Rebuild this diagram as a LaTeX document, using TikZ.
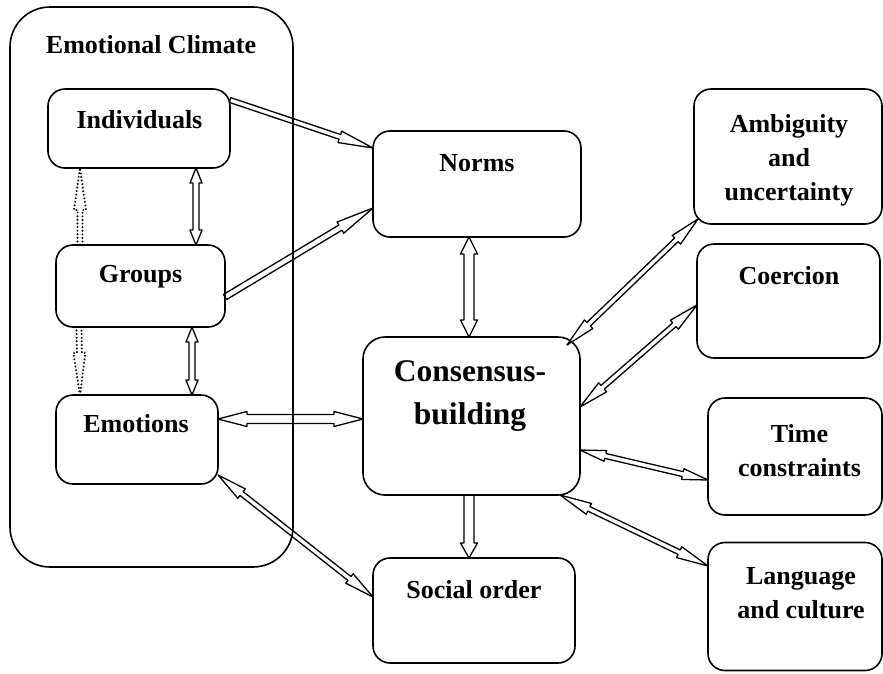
\documentclass[tikz,border=0pt]{standalone}
\usepackage{fontspec}
\setmainfont{Liberation Serif}
\usetikzlibrary{calc}

\tikzset{
  box/.style={draw, line width=1.6pt, rounded corners=17pt, inner sep=0pt, outer sep=0pt},
  frame/.style={draw, line width=1.6pt, rounded corners=40pt, inner sep=0pt, outer sep=0pt},
  lbl/.style={font=\bfseries\fontsize{26}{34}\selectfont, align=center, inner sep=0pt},
  biglbl/.style={font=\bfseries\fontsize{31.5}{43}\selectfont, align=center, inner sep=0pt},
  arrowline/.style={draw, line width=1.3pt, line join=round},
  dotline/.style={draw, line width=2.2pt, line cap=round, dash pattern=on 0pt off 3.6pt, line join=round},
}

% hollow arrow with heads at both ends: [style]{from}{to}{shaft half-width}{head half-width}{head length}
\newcommand{\dblarrow}[6][]{%
  \coordinate (hp) at ($(#2)!#6!(#3)$);
  \coordinate (hq) at ($(#3)!#6!(#2)$);
  \draw[arrowline,#1] (#2) -- ($(hp)!#5!90:(#3)$) -- ($(hp)!#4!90:(#3)$)
    -- ($(hq)!#4!-90:(#2)$) -- ($(hq)!#5!-90:(#2)$) -- (#3)
    -- ($(hq)!#5!90:(#2)$) -- ($(hq)!#4!90:(#2)$)
    -- ($(hp)!#4!-90:(#3)$) -- ($(hp)!#5!-90:(#3)$) -- cycle;
}
% hollow arrow with one head at the second end
\newcommand{\sglarrow}[6][]{%
  \coordinate (hq) at ($(#3)!#6!(#2)$);
  \draw[arrowline,#1] ($(#2)!#4!90:(#3)$) -- ($(hq)!#4!-90:(#2)$)
    -- ($(hq)!#5!-90:(#2)$) -- (#3) -- ($(hq)!#5!90:(#2)$)
    -- ($(hq)!#4!90:(#2)$) -- ($(#2)!#4!-90:(#3)$) -- cycle;
}

\begin{document}
\begin{tikzpicture}[x=1pt, y=-1pt]
\useasboundingbox (0,0) rectangle (883,673);

% emotional climate frame
\node[frame, minimum width=283pt, minimum height=560pt] (clim) at (151.5,287) {};
\node[lbl] (clim-t) at (151,45) {Emotional Climate};

% boxes
\node[box, minimum width=182pt, minimum height=79pt] (ind) at (139,128.5) {};
\node[lbl] (ind-t) at (139.5,120) {Individuals};

\node[box, minimum width=169pt, minimum height=82pt] (grp) at (140.5,286) {};
\node[lbl] (grp-t) at (140.5,277) {Groups};

\node[box, minimum width=162pt, minimum height=89pt] (emo) at (137,439.5) {};
\node[lbl] (emo-t) at (136,424) {Emotions};

\node[box, minimum width=208pt, minimum height=106pt] (norms) at (477,184) {};
\node[lbl] (norms-t) at (477,163) {Norms};

\node[box, rounded corners=22pt, minimum width=217pt, minimum height=158pt] (cons) at (471.5,416) {};
\node[biglbl] (cons-t) at (470,396.5) {Consensus-\\building};

\node[box, minimum width=202pt, minimum height=105pt] (soc) at (474,610.5) {};
\node[lbl] (soc-t) at (474,590) {Social order};

\node[box, minimum width=188pt, minimum height=135pt] (amb) at (788,156.5) {};
\node[lbl] (amb-t) at (789,160) {Ambiguity\\and\\uncertainty};

\node[box, minimum width=183pt, minimum height=114pt] (coer) at (788.5,301) {};
\node[lbl] (coer-t) at (789,276) {Coercion};

\node[box, minimum width=174pt, minimum height=117pt] (tc) at (795,456.5) {};
\node[lbl] (tc-t) at (799.5,450.5) {Time\\constraints};

\node[box, minimum width=174pt, minimum height=128pt] (lc) at (795,606.5) {};
\node[lbl] (lc-t) at (801,593.5) {Language\\and culture};

% connector end points
\coordinate (e1a) at (ind.east |- 0,100);
\coordinate (e1b) at (norms.west |- 0,148);
\coordinate (e2a) at (grp.east |- 0,297);
\coordinate (e2b) at (norms.west |- 0,208);
\coordinate (e3a) at (ind.south -| 196,0);
\coordinate (e3b) at (grp.north -| 196,0);
\coordinate (e4a) at (grp.south -| 192,0);
\coordinate (e4b) at (emo.north -| 192,0);
\coordinate (e5a) at (norms.south -| 469,0);
\coordinate (e5b) at (cons.north -| 469,0);
\coordinate (e6a) at (emo.east |- 0,419);
\coordinate (e6b) at (cons.west |- 0,419);
\coordinate (e7a) at (emo.east |- 0,475);
\coordinate (e7b) at (soc.west |- 0,597);
\coordinate (e8a) at (cons.south -| 469,0);
\coordinate (e8b) at (soc.north -| 469,0);
\coordinate (e9a) at ($(cons.north east)+(-13,8)$);
\coordinate (e9b) at ($(amb.south west)+(4,-5)$);
\coordinate (e10a) at (cons.east |- 0,407);
\coordinate (e10b) at (coer.west |- 0,305);
\coordinate (e11a) at (cons.east |- 0,450);
\coordinate (e11b) at (tc.west |- 0,480);
\coordinate (e12a) at ($(cons.south east)+(-20,0)$);
\coordinate (e12b) at (lc.west |- 0,566);
\coordinate (d1a) at (grp.north -| 80,0);
\coordinate (d1b) at (ind.south -| 80,0);
\coordinate (d2a) at (grp.south -| 79,0);
\coordinate (d2b) at (emo.north -| 80,0);

% connectors
\sglarrow{e1a}{e1b}{2.5pt}{6pt}{35pt}
\sglarrow{e2a}{e2b}{3pt}{6.5pt}{38pt}
\dblarrow{e3a}{e3b}{3pt}{6pt}{15pt}
\dblarrow{e4a}{e4b}{3pt}{6pt}{15pt}
\dblarrow{e5a}{e5b}{5pt}{8.5pt}{17pt}
\dblarrow{e6a}{e6b}{4.5pt}{7.5pt}{29pt}
\dblarrow{e7a}{e7b}{2.5pt}{6pt}{30pt}
\sglarrow{e8a}{e8b}{5pt}{8.5pt}{15pt}
\dblarrow{e9a}{e9b}{2.5pt}{6pt}{30pt}
\dblarrow{e10a}{e10b}{2.5pt}{6pt}{30pt}
\dblarrow{e11a}{e11b}{2.5pt}{5.5pt}{26pt}
\dblarrow{e12a}{e12b}{2.5pt}{6pt}{32pt}

% dotted links inside the frame
\sglarrow[dotline]{d1a}{d1b}{2.5pt}{6pt}{42pt}
\sglarrow[dotline]{d2a}{d2b}{2.5pt}{6pt}{42pt}
\end{tikzpicture}
\end{document}
